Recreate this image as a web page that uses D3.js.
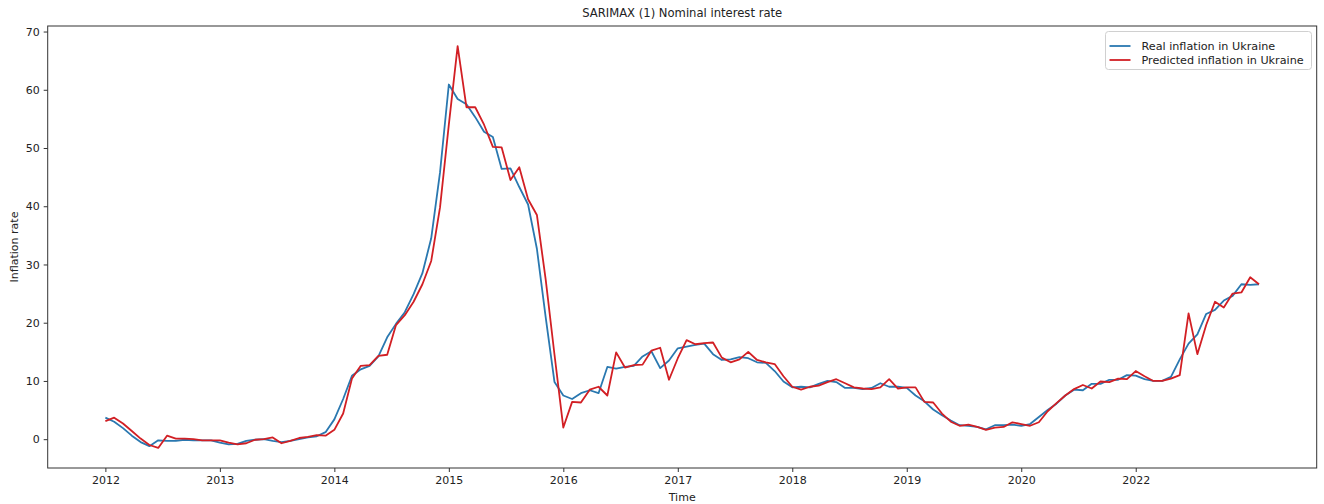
<!DOCTYPE html>
<html>
<head>
<meta charset="utf-8">
<script src="https://cdn.jsdelivr.net/npm/d3@7"></script>
<style>
  html, body { margin: 0; padding: 0; background: #fff; }
  svg { display: block; font-family: "DejaVu Sans", sans-serif; }
</style>
</head>
<body>
<svg id="chart" width="1324" height="504"></svg>
<script>
// Monthly year-over-year inflation, Jan 2012 – Dec 2022
const realInflation = [
  3.7, 3.0, 1.9, 0.6, -0.5, -1.2, -0.2, -0.3, -0.3, -0.1, -0.2, -0.2,
  -0.2, -0.6, -0.9, -0.8, -0.3, -0.1, 0.0, -0.3, -0.5, -0.3, 0.0, 0.3,
  0.5, 1.2, 3.4, 6.9, 10.9, 12.0, 12.6, 14.2, 17.5, 19.8, 21.8, 24.9,
  28.5, 34.5, 45.8, 60.9, 58.4, 57.5, 55.3, 52.8, 51.9, 46.4, 46.5, 43.3,
  40.3, 32.7, 20.9, 9.8, 7.5, 6.9, 7.9, 8.4, 7.9, 12.4, 12.1, 12.4,
  12.6, 14.2, 15.1, 12.2, 13.5, 15.6, 15.9, 16.2, 16.4, 14.6, 13.6, 13.7,
  14.1, 13.9, 13.2, 13.1, 11.7, 9.9, 8.9, 9.0, 8.9, 9.5, 10.0, 9.8,
  8.8, 8.8, 8.6, 8.8, 9.6, 9.0, 9.0, 8.8, 7.5, 6.5, 5.1, 4.1,
  3.2, 2.4, 2.3, 2.1, 1.7, 2.4, 2.4, 2.5, 2.3, 2.6, 3.8, 5.0,
  6.1, 7.5, 8.5, 8.4, 9.5, 9.5, 10.2, 10.2, 11.0, 10.9, 10.3, 10.0,
  10.0, 10.7, 13.7, 16.4, 18.0, 21.5, 22.2, 23.8, 24.6, 26.6, 26.5, 26.6
];

const predictedInflation = [
  3.1, 3.7, 2.7, 1.4, 0.1, -1.0, -1.5, 0.6, 0.1, 0.1, 0.0, -0.2,
  -0.2, -0.2, -0.6, -0.9, -0.7, -0.1, 0.0, 0.3, -0.7, -0.3, 0.2, 0.4,
  0.7, 0.6, 1.6, 4.4, 10.4, 12.6, 12.7, 14.3, 14.5, 19.6, 21.3, 23.6,
  26.6, 30.6, 39.8, 54.0, 67.5, 57.0, 57.0, 54.0, 50.2, 50.1, 44.5, 46.7,
  41.2, 38.5, 27.4, 14.5, 2.0, 6.4, 6.3, 8.5, 9.0, 7.5, 14.9, 12.3,
  12.7, 12.8, 15.2, 15.7, 10.2, 13.9, 17.0, 16.3, 16.5, 16.6, 14.0, 13.2,
  13.7, 15.0, 13.6, 13.2, 12.9, 10.8, 9.0, 8.5, 9.0, 9.2, 9.8, 10.3,
  9.6, 8.9, 8.7, 8.6, 8.9, 10.3, 8.7, 8.9, 8.9, 6.4, 6.3, 4.4,
  3.0, 2.3, 2.5, 2.1, 1.6, 2.0, 2.1, 2.9, 2.6, 2.3, 2.9, 4.8,
  6.2, 7.5, 8.6, 9.3, 8.7, 9.9, 9.8, 10.4, 10.3, 11.7, 10.8, 10.0,
  10.0, 10.4, 11.0, 21.6, 14.6, 19.6, 23.6, 22.6, 25.0, 25.2, 27.8, 26.6
];

// Tick positions (observation index) and their year labels
const tickIndex = [0, 13, 26, 39, 52, 65, 78, 91, 104, 117];
const tickLabels = ["2012", "2013", "2014", "2015", "2016", "2017", "2018", "2019", "2020", "2022"];
const yTicks = [0, 10, 20, 30, 40, 50, 60, 70];

const seriesNames = ["Real inflation in Ukraine", "Predicted inflation in Ukraine"];
const seriesColors = ["#2a78b0", "#d21f24"];

const svg = d3.select("#chart");
const margin = { left: 47.7, right: 1316.7, top: 26, bottom: 468 };

const n = realInflation.length;
const pad = (n - 1) * 0.05;
const x = d3.scaleLinear().domain([-pad, n - 1 + pad]).range([margin.left, margin.right]);

const allVals = realInflation.concat(predictedInflation);
const yMin = d3.min(allVals), yMax = d3.max(allVals);
const yPad = (yMax - yMin) * 0.05;
const y = d3.scaleLinear().domain([yMin - yPad, yMax + yPad]).range([margin.bottom, margin.top]);

// Axes
const xAxis = d3.axisBottom(x)
  .tickValues(tickIndex)
  .tickFormat((d, i) => tickLabels[i])
  .tickSize(4).tickPadding(4);
const yAxis = d3.axisLeft(y)
  .tickValues(yTicks)
  .tickFormat(d3.format("d"))
  .tickSize(4).tickPadding(4);

const gx = svg.append("g").attr("transform", `translate(0,${margin.bottom})`).call(xAxis);
const gy = svg.append("g").attr("transform", `translate(${margin.left},0)`).call(yAxis);
[gx, gy].forEach(g => {
  g.select(".domain").remove();
  g.selectAll(".tick line").attr("stroke", "#333").attr("stroke-width", 1);
  g.selectAll(".tick text").attr("fill", "#222").style("font-size", "11px").style("font-family", "DejaVu Sans");
});

// Lines
const line = d3.line().x((d, i) => x(i)).y(d => y(d));
[realInflation, predictedInflation].forEach((series, k) => {
  svg.append("path")
    .datum(series)
    .attr("fill", "none")
    .attr("stroke", seriesColors[k])
    .attr("stroke-width", 1.8)
    .attr("stroke-linejoin", "round")
    .attr("d", line);
});

// Frame
svg.append("rect")
  .attr("x", margin.left).attr("y", margin.top)
  .attr("width", margin.right - margin.left).attr("height", margin.bottom - margin.top)
  .attr("fill", "none").attr("stroke", "#333").attr("stroke-width", 1);

// Title and axis labels
svg.append("text")
  .attr("x", (margin.left + margin.right) / 2).attr("y", 17)
  .attr("text-anchor", "middle").style("font-size", "11.6px").attr("fill", "#222")
  .text("SARIMAX (1) Nominal interest rate");
svg.append("text")
  .attr("x", (margin.left + margin.right) / 2).attr("y", 501)
  .attr("text-anchor", "middle").style("font-size", "11px").attr("fill", "#222")
  .text("Time");
svg.append("text")
  .attr("transform", `translate(18,${(margin.top + margin.bottom) / 2}) rotate(-90)`)
  .attr("text-anchor", "middle").style("font-size", "11px").attr("fill", "#222")
  .text("Inflation rate");

// Legend
const lg = svg.append("g").attr("transform", "translate(1105.5,31.5)");
lg.append("rect")
  .attr("width", 206).attr("height", 38).attr("rx", 3)
  .attr("fill", "#fff").attr("stroke", "#d0d0d0").attr("stroke-width", 1);
seriesNames.forEach((name, k) => {
  const cy = 14.5 + k * 14;
  lg.append("line")
    .attr("x1", 4).attr("x2", 25).attr("y1", cy).attr("y2", cy)
    .attr("stroke", seriesColors[k]).attr("stroke-width", 1.8);
  lg.append("text")
    .attr("x", 36).attr("y", cy + 4)
    .style("font-size", "11.2px").attr("fill", "#222")
    .text(name);
});
</script>
</body>
</html>
